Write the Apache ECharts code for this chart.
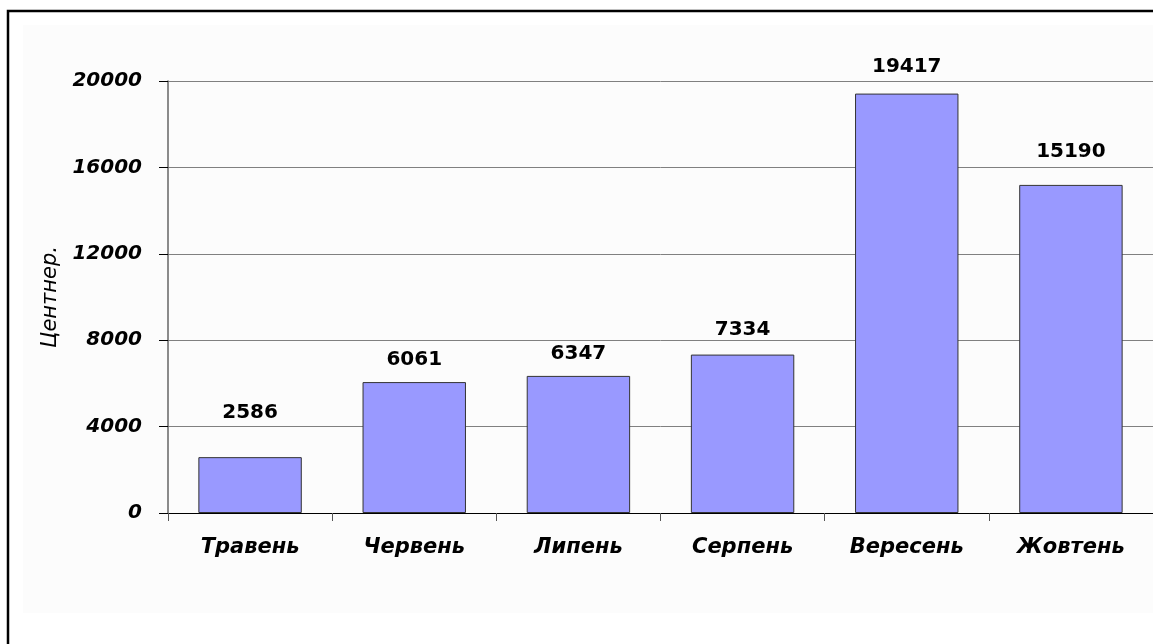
<!DOCTYPE html>
<html>
<head>
<meta charset="utf-8">
<script src="https://cdn.jsdelivr.net/npm/echarts@6/dist/echarts.min.js"></script>
<style>
  html, body { margin: 0; padding: 0; background: #ffffff; overflow: hidden; }
  #chart { width: 1153px; height: 644px; }
</style>
</head>
<body>
<div id="chart"></div>
<script>
// Monthly volumes, in centners
const months = ['Травень', 'Червень', 'Липень', 'Серпень', 'Вересень', 'Жовтень'];
const volumes = [2586, 6061, 6347, 7334, 19417, 15190];
const yTicks = [0, 4000, 8000, 12000, 16000, 20000];
const yTitle = 'Центнер.';

// how far each value label sits above its bar (px)
const labelLift = [34, 12, 12, 15, 17, 23];

const chart = echarts.init(document.getElementById('chart'), null, { renderer: 'canvas' });

const tickFont = {
  fontFamily: 'DejaVu Sans',
  fontWeight: 'bold',
  fontStyle: 'italic',
  color: '#000'
};

chart.setOption({
  animation: false,
  backgroundColor: '#ffffff',
  graphic: [
    {
      type: 'rect',
      silent: true,
      z: -10,
      shape: { x: 23, y: 25, width: 1130, height: 588 },
      style: { fill: '#fcfcfc' }
    },
    {
      type: 'polyline',
      silent: true,
      z: 10,
      shape: { points: [[8, 660], [8, 11], [1170, 11]] },
      style: { stroke: '#000', lineWidth: 2.5, fill: null }
    }
  ],
  grid: { left: 168, top: 81, width: 987, height: 432, containLabel: false },
  xAxis: {
    type: 'category',
    data: months,
    axisLine: { lineStyle: { color: '#000', width: 1 } },
    axisTick: { show: true, length: 8, lineStyle: { color: '#555' } },
    axisLabel: Object.assign({ fontSize: 21, margin: 24 }, tickFont),
    splitLine: { show: false }
  },
  yAxis: {
    type: 'value',
    min: yTicks[0],
    max: yTicks[yTicks.length - 1],
    interval: yTicks[1] - yTicks[0],
    name: yTitle,
    nameLocation: 'middle',
    nameGap: 97,
    nameRotate: 90,
    nameTextStyle: {
      fontFamily: 'DejaVu Sans',
      fontStyle: 'italic',
      fontSize: 21,
      color: '#000'
    },
    axisLine: { show: true, lineStyle: { color: '#666', width: 1.5 } },
    axisTick: { show: true, length: 9, lineStyle: { color: '#000' } },
    axisLabel: Object.assign({ fontSize: 20, margin: 26, formatter: v => String(v) }, tickFont),
    splitLine: { show: true, lineStyle: { color: '#808080', width: 1 } }
  },
  series: [{
    type: 'bar',
    barCategoryGap: '37%',
    itemStyle: { color: '#9999ff', borderColor: '#333', borderWidth: 1 },
    data: volumes.map((v, i) => ({
      value: v,
      label: { distance: labelLift[i] }
    })),
    label: {
      show: true,
      position: 'top',
      fontFamily: 'DejaVu Sans',
      fontWeight: 'bold',
      fontSize: 20,
      color: '#000'
    }
  }]
});
</script>
</body>
</html>
